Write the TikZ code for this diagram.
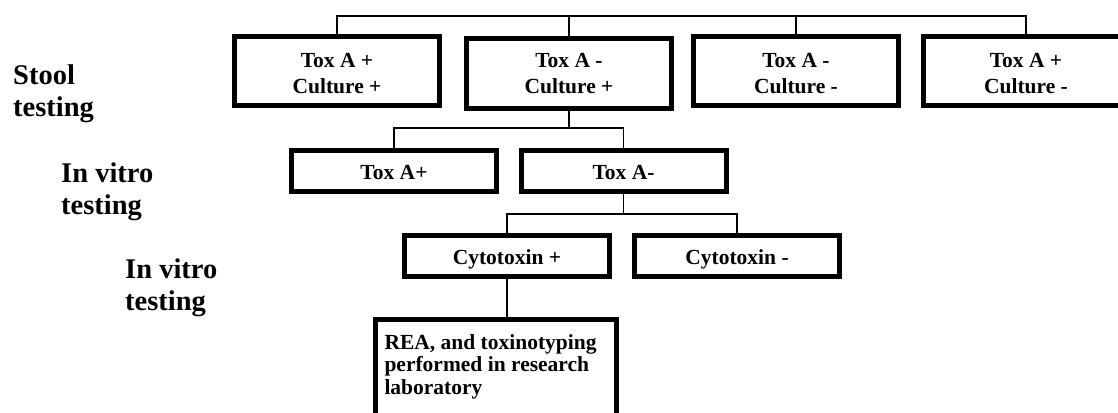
\documentclass[tikz,border=0pt]{standalone}
\usepackage{fontspec}
\setmainfont{Liberation Serif}
\begin{document}
\begin{tikzpicture}[x=1pt,y=-1pt,
  boxbase/.style={draw=black, line width=5pt, inner sep=0pt, align=center,
    font=\fontsize{21.5}{26}\selectfont\bfseries},
  bigbox/.style={boxbase, minimum width=205pt, minimum height=69pt,
    text height=44pt, text depth=0pt},
  smallbox/.style={boxbase, minimum width=205pt, minimum height=41pt,
    text height=20pt, text depth=4pt},
  conn/.style={draw=black, line width=1.3pt},
  lbl/.style={anchor=base west, align=left, inner sep=0pt,
    font=\fontsize{28.5}{32}\selectfont\bfseries}]
\useasboundingbox (0,0) rectangle (1118,412);
\clip (0,0) rectangle (1118,412);
\fill[white] (0,0) rectangle (1118,412);

% level 1
\node[bigbox] (b1) at (337,71) {Tox A +\\Culture +};
\node[bigbox, text height=39pt] (b2) at (569,73.5) {Tox A -\\Culture +};
\node[bigbox] (b3) at (796,71) {Tox A -\\Culture -};
\node[bigbox] (b4) at (1026,71) {Tox A +\\Culture -};
% level 2
\node[smallbox] (c1) at (394,171) {Tox A+};
\node[smallbox] (c2) at (623.5,171) {Tox A-};
% level 3
\node[smallbox] (d1) at (507,256) {Cytotoxin +};
\node[smallbox] (d2) at (737,256) {Cytotoxin -};
% research box
\node[draw=black, line width=5pt, anchor=north, inner xsep=9pt, inner ysep=15pt,
  font=\fontsize{21.5}{22.5}\selectfont\bfseries] (rea) at (496,317)
  {\begin{minipage}[t][80pt][t]{223pt}\raggedright
   REA, and toxinotyping\\performed in research\\laboratory\end{minipage}};

% labels
\node[lbl] (l1) at (13,116) {Stool\\testing};
\node[lbl] (l2) at (61,214) {In vitro\\testing};
\node[lbl] (l3) at (125,310) {In vitro\\testing};

% connectors
\coordinate (busA) at (0,16);
\coordinate (busB) at (0,128);
\coordinate (busC) at (0,214);
\draw[conn] (b1.north) -- (b1.north |- busA) -- (b4.north |- busA) -- (b4.north);
\draw[conn] (b2.north) -- (b2.north |- busA);
\draw[conn] (b3.north) -- (b3.north |- busA);
\draw[conn] (b2.south) -- (b2.south |- busB);
\draw[conn] (c1.north) -- (c1.north |- busB) -- (c2.north |- busB) -- (c2.north);
\draw[conn] (c2.south) -- (c2.south |- busC);
\draw[conn] (d1.north) -- (d1.north |- busC) -- (d2.north |- busC) -- (d2.north);
\draw[conn] (d1.south) -- (d1.south |- rea.north);
\end{tikzpicture}
\end{document}
